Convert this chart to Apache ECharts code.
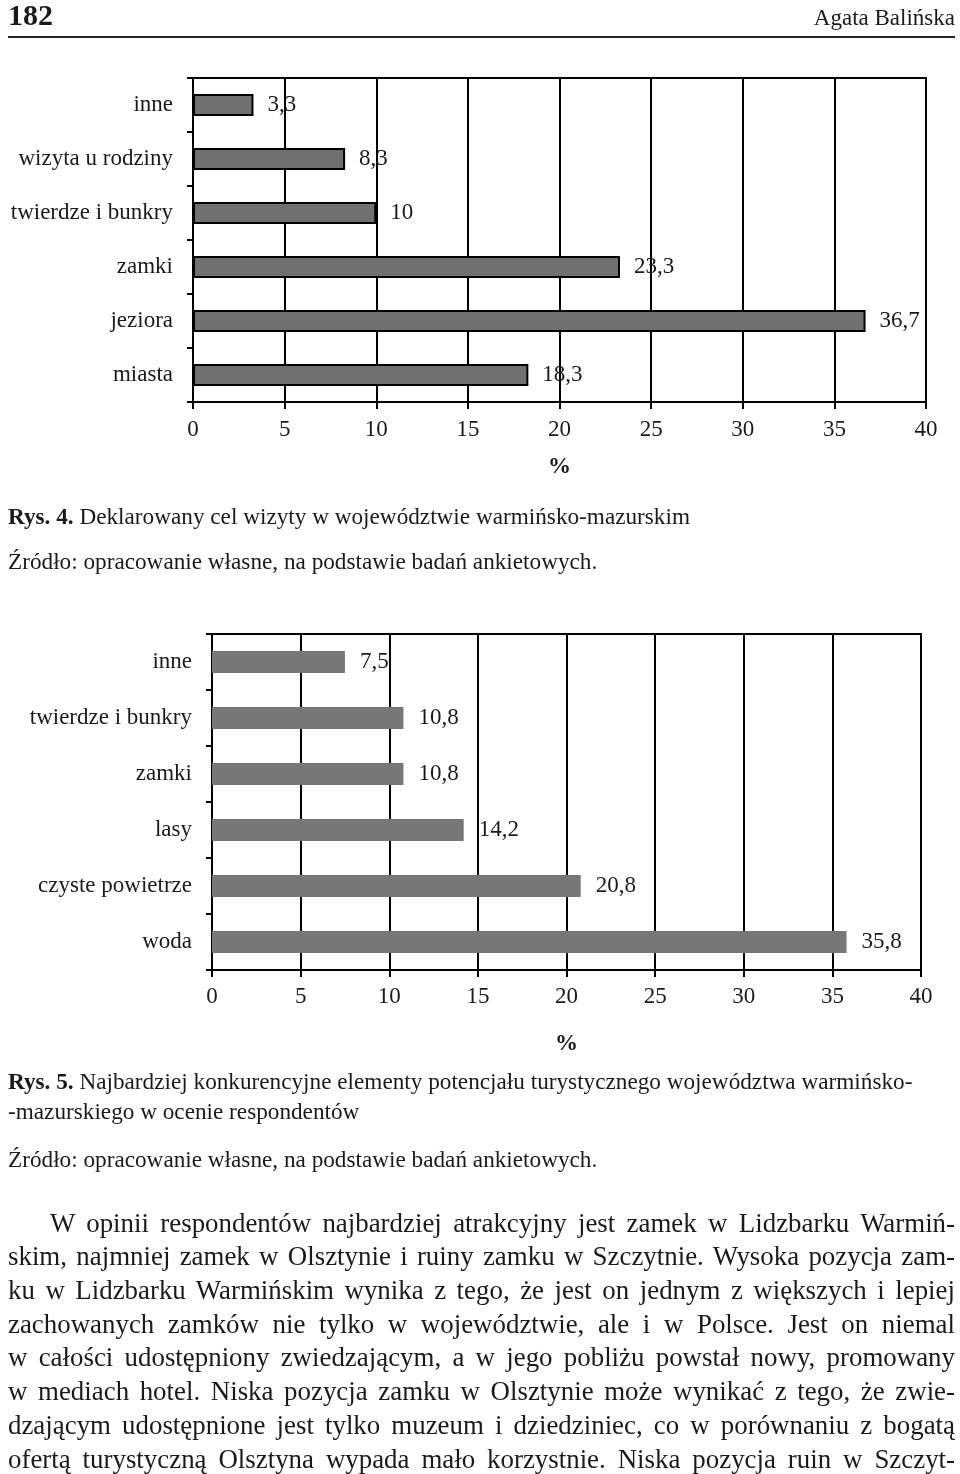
<!DOCTYPE html>
<html><head><meta charset="utf-8">
<script src="https://cdn.jsdelivr.net/npm/echarts@6/dist/echarts.min.js"></script>
<style>
html,body{margin:0;padding:0;background:#fff;}
#page{position:relative;width:960px;height:1474px;overflow:hidden;background:#fff;}
#chart{position:absolute;left:0;top:0;width:960px;height:1474px;}
.t{position:absolute;white-space:nowrap;font-family:"Liberation Serif","Times New Roman",serif;color:#1a1a1a;transform-origin:0 50%;}
</style></head>
<body><div id="page"><div id="chart"></div></div>
<script>
// ---- data ----
const cats1 = ['inne', 'wizyta u rodziny', 'twierdze i bunkry', 'zamki', 'jeziora', 'miasta'];
const vals1 = [3.3, 8.3, 10, 23.3, 36.7, 18.3];
const cats2 = ['inne', 'twierdze i bunkry', 'zamki', 'lasy', 'czyste powietrze', 'woda'];
const vals2 = [7.5, 10.8, 10.8, 14.2, 20.8, 35.8];
const xMin = 0, xMax = 40, xStep = 5;
const axisName = '%';

const headerPage = '182';
const headerAuthor = 'Agata Balińska';
const caption1 = ['Rys. 4.', 'Deklarowany cel wizyty w województwie warmińsko-mazurskim'];
const source1 = 'Źródło: opracowanie własne, na podstawie badań ankietowych.';
const caption2a = ['Rys. 5.', 'Najbardziej konkurencyjne elementy potencjału turystycznego województwa warmińsko-'];
const caption2b = '-mazurskiego w ocenie respondentów';
const source2 = 'Źródło: opracowanie własne, na podstawie badań ankietowych.';
const bodyLines = [
  'W opinii respondentów najbardziej atrakcyjny jest zamek w Lidzbarku Warmiń-',
  'skim, najmniej zamek w Olsztynie i ruiny zamku w Szczytnie. Wysoka pozycja zam-',
  'ku w Lidzbarku Warmińskim wynika z tego, że jest on jednym z większych i lepiej',
  'zachowanych zamków nie tylko w województwie, ale i w Polsce. Jest on niemal',
  'w całości udostępniony zwiedzającym, a w jego pobliżu powstał nowy, promowany',
  'w mediach hotel. Niska pozycja zamku w Olsztynie może wynikać z tego, że zwie-',
  'dzającym udostępnione jest tylko muzeum i dziedziniec, co w porównaniu z bogatą',
  'ofertą turystyczną Olsztyna wypada mało korzystnie. Niska pozycja ruin w Szczyt-'
];

// ---- text helpers ----
const page = document.getElementById('page');
function esc(s){return s.replace(/&/g,'&amp;').replace(/</g,'&lt;');}
function makeLine(html, x, cy, size, bold){
  const d = document.createElement('div');
  d.className = 't';
  d.style.fontSize = size + 'px';
  d.style.lineHeight = Math.round(size * 1.2) + 'px';
  d.style.left = x + 'px';
  d.style.top = (cy - size * 0.62) + 'px';
  if (bold) d.style.fontWeight = 'bold';
  d.innerHTML = html;
  page.appendChild(d);
  return d;
}
function justify(d, text, target, condense){
  d.style.transform = 'scaleX(' + condense + ')';
  const w = d.getBoundingClientRect().width;
  const spaces = (text.match(/ /g) || []).length;
  if (w < target && spaces > 0) {
    d.style.wordSpacing = ((target - w) / spaces / condense) + 'px';
  } else if (w > target) {
    d.style.transform = 'scaleX(' + (condense * target / w) + ')';
  }
}

// header
makeLine(esc(headerPage), 8, 16, 30, true);
const au = makeLine(esc(headerAuthor), 0, 18, 23, false);
au.style.left = (955 - au.getBoundingClientRect().width) + 'px';
const rule = document.createElement('div');
rule.style.cssText = 'position:absolute;left:8px;top:36px;width:947px;height:2px;background:#222;';
page.appendChild(rule);

// captions (condensed serif)
const capSize = 23;
const c1 = makeLine('<b>' + esc(caption1[0]) + '</b> ' + esc(caption1[1]), 8, 517, capSize);
const w1 = c1.getBoundingClientRect().width;
const capScale = 682 / w1;
c1.style.transform = 'scaleX(' + capScale + ')';
function capLine(html, cy){
  const d = makeLine(html, 8, cy, capSize);
  d.style.transform = 'scaleX(' + capScale + ')';
  return d;
}
capLine(esc(source1), 562);
capLine('<b>' + esc(caption2a[0]) + '</b> ' + esc(caption2a[1]), 1082);
capLine(esc(caption2b), 1112);
capLine(esc(source2), 1160);

// body text, justified per line
const bodySize = 28;
bodyLines.forEach((ln, i) => {
  const x = i === 0 ? 50 : 8;
  const d = makeLine(esc(ln), x, 1223 + i * 33.7, bodySize);
  justify(d, ln, 955 - x, 0.96);
});

// ---- chart ----
const fam = '"Liberation Serif", "Times New Roman", serif';
const fs = 23;
const fmt = p => String(p.value).replace('.', ',');
function xAxisCfg(gi, margin, gap){
  return {
    gridIndex: gi, type: 'value', min: xMin, max: xMax, interval: xStep,
    axisLine: {show: true, lineStyle: {color: '#000', width: 2}},
    axisTick: {show: true, length: 7, lineStyle: {color: '#000', width: 2}},
    splitLine: {show: true, lineStyle: {color: '#000', width: 2}},
    axisLabel: {color: '#1a1a1a', fontSize: fs, margin: margin, fontFamily: fam},
    name: axisName, nameLocation: 'middle', nameGap: gap,
    nameTextStyle: {fontSize: 23, fontWeight: 'bold', color: '#1a1a1a', fontFamily: fam}
  };
}
function yAxisCfg(gi, cats){
  return {
    gridIndex: gi, type: 'category', data: cats, inverse: true,
    axisLine: {show: true, lineStyle: {color: '#000', width: 2}},
    axisTick: {show: true, length: 6, lineStyle: {color: '#000', width: 2}},
    axisLabel: {color: '#1a1a1a', fontSize: fs, margin: 20, fontFamily: fam}
  };
}
const chart = echarts.init(document.getElementById('chart'), null, {renderer: 'canvas'});
chart.setOption({
  animation: false,
  backgroundColor: 'transparent',
  textStyle: {fontFamily: fam},
  grid: [
    {left: 193, top: 78, width: 733, height: 324, show: true, borderColor: '#000', borderWidth: 2, containLabel: false},
    {left: 212, top: 634, width: 709, height: 336, show: true, borderColor: '#000', borderWidth: 2, containLabel: false}
  ],
  xAxis: [xAxisCfg(0, 16, 54), xAxisCfg(1, 15, 63)],
  yAxis: [yAxisCfg(0, cats1), yAxisCfg(1, cats2)],
  series: [
    {type: 'bar', xAxisIndex: 0, yAxisIndex: 0, data: vals1, barWidth: 22,
     itemStyle: {color: '#707070', borderColor: '#000', borderWidth: 2},
     label: {show: true, position: 'right', distance: 14, formatter: fmt, fontSize: fs, color: '#1a1a1a', fontFamily: fam}},
    {type: 'bar', xAxisIndex: 1, yAxisIndex: 1, data: vals2, barWidth: 22,
     itemStyle: {color: '#777777'},
     label: {show: true, position: 'right', distance: 15, formatter: fmt, fontSize: fs, color: '#1a1a1a', fontFamily: fam}}
  ]
});
</script>
</body></html>
